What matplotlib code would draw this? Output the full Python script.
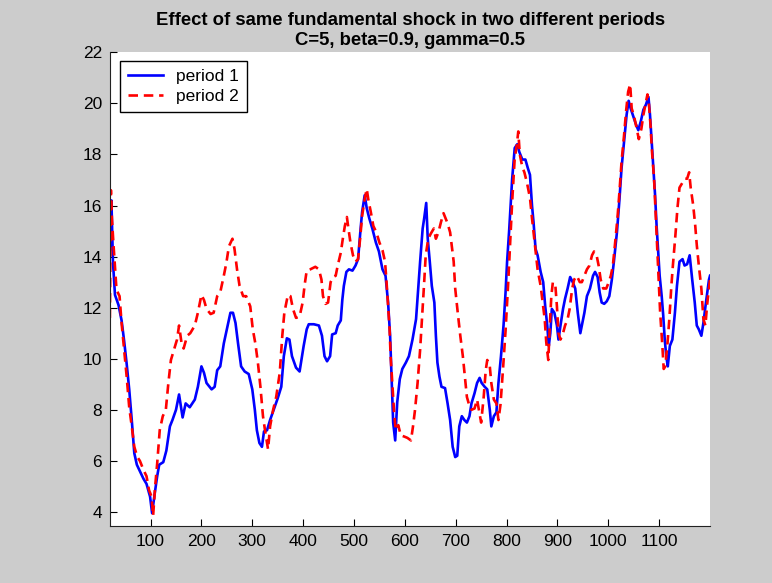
import matplotlib
matplotlib.use("Agg")
import matplotlib.pyplot as plt

# periodo 1 (linea azul continua)
t1 = [21, 23, 26, 30, 37, 43, 48, 53, 58, 63, 68, 73, 79, 86, 92, 99, 103, 108, 113, 117,
      125, 131, 138, 143, 150, 156, 163, 169, 177, 187, 193, 200, 205, 210, 220, 226, 231, 237, 244, 250,
      257, 262, 267, 272, 278, 285, 293, 300, 305, 309, 314, 319, 323, 329, 335, 342, 350, 357, 362, 368,
      373, 378, 386, 393, 401, 407, 411, 421, 431, 437, 442, 447, 453, 457, 464, 468, 474, 477, 480, 485,
      490, 497, 503, 508, 513, 516, 521, 525, 530, 536, 543, 549, 556, 562, 567, 571, 574, 577, 581, 585,
      590, 595, 602, 608, 615, 622, 626, 630, 635, 638, 642, 645, 649, 653, 658, 661, 664, 668, 672, 679,
      684, 689, 694, 699, 703, 707, 712, 717, 722, 727, 731, 737, 742, 747, 751, 757, 762, 767, 770, 775,
      780, 784, 789, 794, 798, 801, 805, 808, 811, 816, 821, 825, 831, 837, 842, 846, 850, 853, 857, 861,
      867, 872, 876, 880, 883, 886, 889, 894, 899, 902, 906, 911, 915, 920, 925, 930, 935, 940, 945, 948,
      953, 958, 964, 970, 974, 979, 983, 987, 992, 997, 1002, 1007, 1011, 1017, 1022, 1026, 1031, 1036, 1040, 1044,
      1049, 1054, 1059, 1064, 1069, 1074, 1079, 1082, 1085, 1088, 1092, 1095, 1098, 1101, 1105, 1108, 1111, 1114, 1117, 1121,
      1126, 1131, 1135, 1140, 1146, 1150, 1155, 1160, 1165, 1170, 1174, 1178, 1183, 1187, 1192, 1198, 1200]
p1 = [14.3, 16.2, 13.8, 12.5, 12.1, 11.5, 10.7, 9.8, 8.8, 7.6, 6.3, 5.85, 5.6, 5.3, 5.1, 4.6, 3.95, 4.7, 5.4, 5.85,
      5.95, 6.4, 7.35, 7.6, 8.0, 8.6, 7.7, 8.25, 8.1, 8.4, 8.9, 9.7, 9.45, 9.05, 8.8, 8.9, 9.55, 9.7, 10.6, 11.15,
      11.8, 11.8, 11.4, 10.6, 9.7, 9.5, 9.4, 8.8, 8.0, 7.2, 6.7, 6.55, 7.15, 7.2, 7.6, 8.0, 8.45, 8.9, 10.1, 10.8,
      10.75, 10.1, 9.65, 9.5, 10.5, 11.15, 11.35, 11.35, 11.3, 10.9, 10.1, 9.9, 10.1, 10.95, 11.0, 11.3, 11.5, 12.3, 12.85, 13.4,
      13.5, 13.45, 13.65, 13.9, 15.1, 15.75, 16.4, 15.9, 15.5, 15.1, 14.55, 14.2, 13.5, 13.25, 12.2, 10.9, 9.2, 7.5, 6.8, 8.3,
      9.2, 9.6, 9.85, 10.1, 10.75, 11.55, 12.7, 13.8, 15.1, 15.5, 16.1, 14.7, 13.8, 12.85, 12.2, 10.9, 9.85, 9.3, 8.9, 8.85,
      8.25, 7.6, 6.55, 6.15, 6.2, 7.35, 7.75, 7.6, 7.5, 7.75, 8.25, 8.65, 9.05, 9.25, 9.05, 8.9, 8.8, 8.0, 7.35, 7.75,
      7.9, 9.05, 10.1, 11.3, 12.6, 13.8, 15.0, 16.0, 17.05, 18.25, 18.4, 18.1, 17.8, 17.8, 17.45, 17.2, 16.0, 15.35, 14.3, 14.05,
      13.4, 13.0, 12.05, 11.3, 10.5, 11.0, 11.95, 11.8, 11.3, 10.75, 11.3, 11.95, 12.35, 12.75, 13.2, 13.0, 12.75, 11.8, 11.0, 11.3,
      11.8, 12.45, 12.75, 13.25, 13.4, 13.2, 12.6, 12.2, 12.15, 12.25, 12.45, 13.1, 13.8, 14.95, 16.25, 17.45, 18.5, 19.55, 20.1, 19.8,
      19.5, 19.2, 18.95, 19.3, 19.75, 19.95, 20.25, 19.55, 18.6, 17.6, 16.4, 15.2, 14.2, 13.25, 12.45, 11.7, 10.75, 10.1, 9.7, 10.5,
      10.75, 11.8, 12.85, 13.8, 13.9, 13.65, 13.7, 14.05, 13.1, 12.2, 11.3, 11.15, 10.9, 11.4, 12.2, 13.1, 13.25]

# periodo 2 (linea roja discontinua)
t2 = [20, 22, 24, 27, 33, 39, 43, 48, 53, 58, 63, 68, 74, 79, 86, 92, 97, 102, 105, 109,
      113, 118, 124, 130, 135, 140, 146, 152, 156, 161, 165, 172, 178, 187, 193, 200, 205, 210, 218, 224,
      231, 237, 244, 249, 254, 261, 265, 270, 275, 282, 288, 296, 301, 306, 311, 316, 321, 325, 331, 335,
      341, 347, 354, 359, 363, 370, 375, 380, 386, 393, 399, 403, 407, 414, 424, 431, 436, 439, 444, 449,
      454, 459, 464, 468, 474, 478, 482, 486, 489, 493, 498, 503, 508, 512, 516, 521, 525, 528, 533, 538,
      544, 550, 556, 561, 564, 567, 570, 572, 576, 579, 582, 587, 592, 599, 605, 612, 616, 620, 625, 630,
      634, 638, 641, 646, 651, 657, 661, 666, 671, 676, 680, 684, 689, 692, 696, 699, 704, 709, 714, 718,
      722, 727, 731, 737, 742, 747, 750, 755, 759, 762, 767, 770, 775, 780, 784, 788, 793, 798, 803, 807,
      811, 816, 820, 823, 826, 831, 835, 840, 846, 850, 853, 857, 861, 867, 872, 875, 878, 882, 885, 888,
      891, 896, 899, 902, 906, 911, 915, 920, 924, 929, 933, 938, 944, 948, 953, 958, 963, 968, 972, 977,
      981, 985, 990, 996, 1000, 1005, 1009, 1013, 1018, 1022, 1026, 1031, 1035, 1039, 1043, 1046, 1050, 1056, 1060, 1065,
      1069, 1073, 1077, 1080, 1083, 1086, 1090, 1093, 1096, 1099, 1102, 1106, 1109, 1112, 1116, 1120, 1124, 1127, 1132, 1136,
      1140, 1146, 1150, 1155, 1159, 1162, 1167, 1171, 1174, 1178, 1183, 1187, 1191, 1194, 1197, 1200]
p2 = [11.6, 16.6, 15.5, 14.5, 12.7, 12.45, 11.4, 10.35, 9.3, 8.1, 7.35, 6.55, 6.15, 6.0, 5.65, 5.4, 4.85, 4.6, 3.85, 5.0,
      5.9, 7.2, 7.75, 8.0, 9.05, 9.95, 10.35, 10.75, 11.3, 10.6, 10.4, 10.9, 11.0, 11.3, 11.8, 12.5, 12.3, 11.95, 11.75, 11.8,
      12.45, 12.6, 13.25, 13.75, 14.4, 14.7, 14.3, 13.5, 12.85, 12.45, 12.45, 12.05, 11.15, 10.6, 9.85, 8.9, 7.75, 7.2, 6.45, 7.35,
      8.0, 8.5, 9.45, 10.9, 11.8, 12.5, 12.45, 11.95, 11.6, 11.65, 12.2, 12.9, 13.45, 13.5, 13.6, 13.5, 13.1, 12.45, 12.15, 12.2,
      13.0, 13.2, 13.25, 13.65, 14.15, 14.7, 15.2, 15.55, 15.1, 14.55, 14.05, 13.8, 13.9, 14.7, 15.6, 16.25, 16.65, 16.25, 15.75, 15.2,
      14.95, 14.55, 14.25, 13.8, 13.0, 12.1, 11.15, 10.1, 8.8, 7.85, 7.2, 7.4, 7.0, 6.95, 6.9, 6.8, 7.35, 8.0, 9.05, 10.35,
      11.65, 13.0, 14.05, 14.7, 14.9, 15.1, 14.7, 14.95, 15.35, 15.7, 15.5, 15.3, 14.95, 14.45, 13.8, 12.75, 11.8, 10.9, 10.1, 9.3,
      8.5, 8.15, 8.0, 8.05, 8.4, 7.85, 7.5, 8.5, 9.55, 9.95, 9.7, 9.05, 8.4, 8.25, 7.6, 8.2, 9.6, 11.1, 12.9, 14.5,
      16.15, 17.85, 18.35, 18.9, 18.0, 17.5, 17.3, 16.9, 16.3, 15.5, 14.95, 14.2, 13.5, 12.85, 12.05, 11.55, 10.65, 9.95, 11.3, 12.45,
      13.0, 12.85, 12.05, 11.0, 10.75, 11.0, 11.3, 11.55, 11.95, 12.75, 13.1, 13.25, 13.0, 13.0, 13.25, 13.5, 13.65, 14.05, 14.2, 14.05,
      13.65, 13.1, 12.75, 12.75, 12.95, 13.25, 13.65, 14.45, 15.5, 16.55, 17.7, 18.75, 19.7, 20.45, 20.75, 19.8, 19.55, 19.0, 18.6, 19.0,
      19.55, 19.95, 20.35, 19.95, 19.15, 18.1, 17.05, 15.75, 14.45, 13.1, 11.8, 10.6, 9.6, 9.7, 10.5, 11.55, 12.85, 13.65, 14.85, 15.9,
      16.7, 16.9, 17.05, 17.05, 17.3, 16.7, 16.0, 15.2, 14.45, 13.65, 12.75, 11.55, 11.3, 12.05, 12.6, 13.1]

plt.rcParams['font.family'] = ['Liberation Sans', 'DejaVu Sans']

fig = plt.figure(figsize=(7.72, 5.83), dpi=100, facecolor='#cccccc')
ax = fig.add_axes([0.143, 0.0978, 0.7767, 0.8125])
ax.set_facecolor('white')

ax.plot(t1, p1, color='#0000ff', lw=1.9, label='period 1')
ax.plot(t2, p2, color='#ff0000', lw=1.9, ls=(0, (3.6, 2.2)), label='period 2')

ax.set_xlim(21, 1200)
ax.set_ylim(3.45, 22)
ax.set_xticks(range(100, 1101, 100))
ax.set_yticks(range(4, 23, 2))
ax.tick_params(direction='in', length=5, labelsize=12.5, colors='black', pad=6)

# solo ejes izquierdo e inferior
ax.spines['top'].set_visible(False)
ax.spines['right'].set_visible(False)
ax.spines['left'].set_color('#222222')
ax.spines['bottom'].set_color('#222222')

ax.set_title('Effect of same fundamental shock in two different periods\nC=5, beta=0.9, gamma=0.5',
             fontsize=13.3, fontweight='bold', pad=5, linespacing=1.25)

leg = ax.legend(loc='upper left', bbox_to_anchor=(0.016, 0.982), borderaxespad=0,
                fontsize=12.5, fancybox=False, framealpha=1, edgecolor='black',
                handlelength=2.0, handletextpad=0.8, borderpad=0.45, labelspacing=0.3)
leg.get_frame().set_linewidth(1.0)

fig.savefig('out.png', dpi=100, facecolor=fig.get_facecolor())
